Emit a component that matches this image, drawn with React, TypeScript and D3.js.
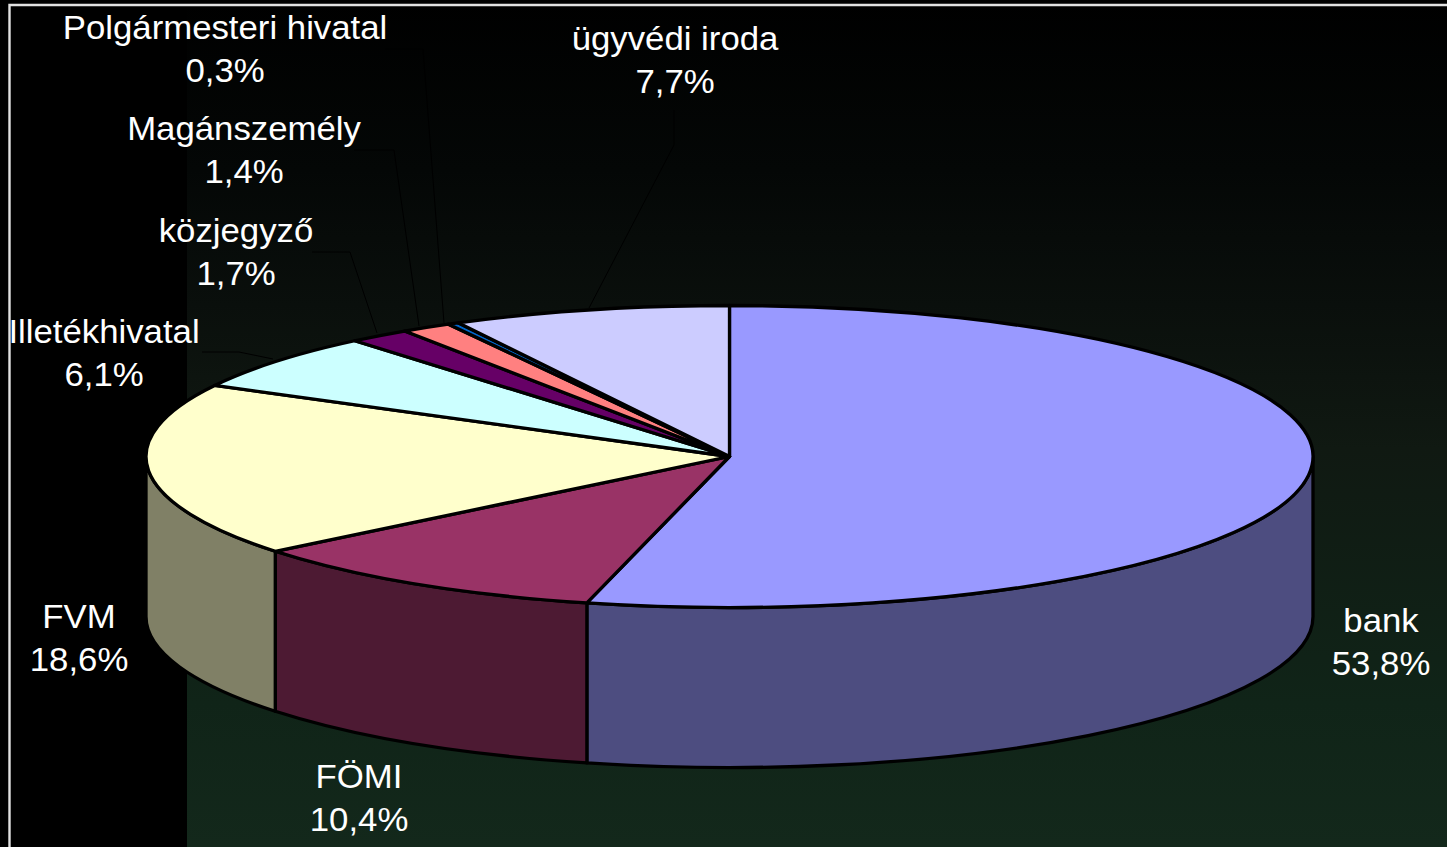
import React from "react";
import * as d3 from "d3";

const categories = ["bank", "FÖMI", "FVM", "Illetékhivatal", "közjegyző", "Magánszemély", "Polgármesteri hivatal", "ügyvédi iroda"];
// Shares as drawn: the bank/FÖMI boundary in the picture sits a little past the printed 53,8 / 10,4.
const seriesValues = [53.93, 10.27, 18.6, 6.1, 1.7, 1.4, 0.3, 7.7];
const valueLabels = ["53,8%", "10,4%", "18,6%", "6,1%", "1,7%", "1,4%", "0,3%", "7,7%"];
const topColors = ["#9999ff", "#993366", "#ffffcc", "#ccffff", "#660066", "#ff8080", "#0066cc", "#ccccff"];
const sideColors = ["#4d4d80", "#4d1a33", "#808066"];
const labelAnchors: [number, number][] = [
  [1381, 632], [359, 788], [79, 628], [104, 343], [236, 242], [244, 140], [225, 39], [675, 50],
];
const leaders: [number, number][][] = [
  [], [], [],
  [[202, 352], [239, 352], [273, 359]],
  [[312, 252], [350, 252], [377, 333]],
  [[354, 150], [394, 150], [419, 326]],
  [[385, 49], [423, 49], [444, 323]],
  [[674, 110], [674, 145], [589, 308]],
];

const W = 1447, H = 847;
const cx = 729.5, cy = 456.5, rx = 583.5, ry = 151, depth = 160;
const px = d3.scaleLinear().domain([-1, 1]).range([cx - rx, cx + rx]);
const py = d3.scaleLinear().domain([-1, 1]).range([cy - ry, cy + ry]);

const arcs = d3.pie<number>().sort(null)(seriesValues);
const X = (a: number) => px(Math.sin(a));
const Y = (a: number) => py(-Math.cos(a));

function topPath(a0: number, a1: number) {
  const large = a1 - a0 > Math.PI ? 1 : 0;
  return `M${cx},${cy}L${X(a0)},${Y(a0)}A${rx},${ry} 0 ${large} 1 ${X(a1)},${Y(a1)}Z`;
}
function sidePath(a0: number, a1: number) {
  const s = Math.max(a0, Math.PI / 2), e = Math.min(a1, (3 * Math.PI) / 2);
  return `M${X(s)},${Y(s)}A${rx},${ry} 0 0 1 ${X(e)},${Y(e)}L${X(e)},${Y(e) + depth}A${rx},${ry} 0 0 0 ${X(s)},${Y(s) + depth}Z`;
}
const line = d3.line();

export default function App() {
  return (
    <svg width={W} height={H} viewBox={`0 0 ${W} ${H}`} style={{ position: "absolute", left: 0, top: 0, background: "#000" }}>
      <defs>
        <linearGradient id="bg" x1="0" y1="0" x2="0" y2="1">
          <stop offset="0" stopColor="#000000" />
          <stop offset="0.2" stopColor="#040706" />
          <stop offset="0.36" stopColor="#0a0f0c" />
          <stop offset="0.53" stopColor="#101912" />
          <stop offset="0.83" stopColor="#102418" />
          <stop offset="1" stopColor="#13281b" />
        </linearGradient>
      </defs>
      <rect x={187} y={0} width={W - 187} height={H} fill="url(#bg)" />
      <rect x={0} y={0} width={187} height={H} fill="#000" />
      <path d={`M9.5,${H}V5H${W}`} fill="none" stroke="#e2e2e2" strokeWidth={2.4} />
      {arcs.map((a, i) =>
        a.startAngle < (3 * Math.PI) / 2 && a.endAngle > Math.PI / 2 ? (
          <path key={i} d={sidePath(a.startAngle, a.endAngle)} fill={sideColors[i]} stroke="#000" strokeWidth={3.3} strokeLinejoin="round" />
        ) : null
      )}
      {arcs.map((a, i) => (
        <path key={i} d={topPath(a.startAngle, a.endAngle)} fill={topColors[i]} stroke="#000" strokeWidth={3.3} strokeLinejoin="round" />
      ))}
      {leaders.map((l, i) =>
        l.length ? <path key={i} d={line(l) as string} fill="none" stroke="#000" strokeWidth={1} /> : null
      )}
      {categories.map((c, i) => (
        <text key={c} transform={`translate(${labelAnchors[i][0]},${labelAnchors[i][1]}) scale(1.038,1)`} textAnchor="middle" fill="#fff" fontFamily="'Liberation Sans', Arial, sans-serif" fontSize={33.5}>
          <tspan x={0}>{c}</tspan>
          <tspan x={0} dy={43}>{valueLabels[i]}</tspan>
        </text>
      ))}
    </svg>
  );
}
